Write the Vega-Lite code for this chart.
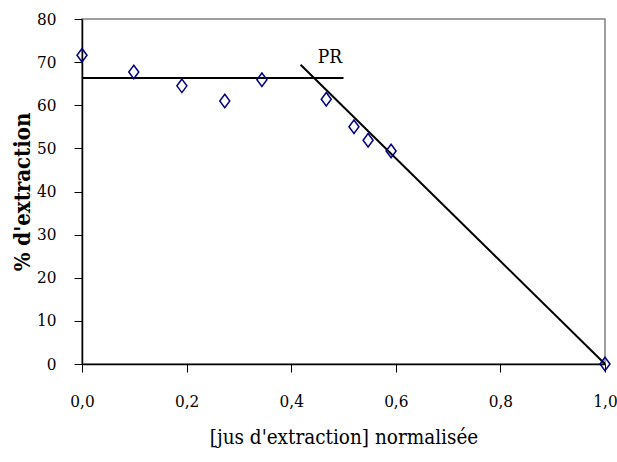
{
  "$schema": "https://vega.github.io/schema/vega-lite/v6.json",
  "width": 523,
  "height": 345,
  "autosize": "none",
  "padding": {"left": 82, "top": 19, "right": 12, "bottom": 98},
  "background": "white",
  "config": {
    "view": {"stroke": "#808080", "strokeWidth": 1.5},
    "font": "DejaVu Serif Condensed",
    "axis": {
      "grid": false,
      "domainColor": "black",
      "domainWidth": 1.5,
      "tickColor": "black",
      "tickWidth": 1,
      "tickSize": 8,
      "labelFont": "DejaVu Serif Condensed",
      "labelFontSize": 17,
      "labelColor": "black",
      "labelFlush": false,
      "titleFont": "DejaVu Serif Condensed",
      "titleColor": "black"
    }
  },
  "datasets": {
    "points": [
      {"x": 0.0, "y": 71.6},
      {"x": 0.099, "y": 67.7},
      {"x": 0.191, "y": 64.5},
      {"x": 0.273, "y": 61.0},
      {"x": 0.344, "y": 65.9},
      {"x": 0.467, "y": 61.4},
      {"x": 0.52, "y": 55.0},
      {"x": 0.547, "y": 51.9},
      {"x": 0.591, "y": 49.4},
      {"x": 1.0, "y": 0.0}
    ],
    "lines": [
      {"x": 0.0, "y": 66.3, "seg": "plateau"},
      {"x": 0.5, "y": 66.3, "seg": "plateau"},
      {"x": 0.418, "y": 69.4, "seg": "pente"},
      {"x": 1.0, "y": 0.0, "seg": "pente"}
    ],
    "labels": [
      {"x": 0.474, "y": 71.2, "label": "PR"}
    ]
  },
  "layer": [
    {
      "data": {"name": "lines"},
      "mark": {"type": "line", "color": "black", "strokeWidth": 2},
      "encoding": {
        "x": {
          "field": "x", "type": "quantitative",
          "scale": {"domain": [0, 1], "nice": false, "zero": false},
          "axis": {
            "values": [0, 0.2, 0.4, 0.6, 0.8, 1.0],
            "labelExpr": "replace(format(datum.value, '.1f'), '.', ',')",
            "labelPadding": 21,
            "title": "[jus d'extraction] normalisée",
            "titleFontSize": 20.5,
            "titleFontWeight": "normal",
            "titlePadding": 18
          }
        },
        "y": {
          "field": "y", "type": "quantitative",
          "scale": {"domain": [0, 80], "nice": false},
          "axis": {
            "values": [0, 10, 20, 30, 40, 50, 60, 70, 80],
            "labelPadding": 18,
            "title": "% d'extraction",
            "titleFontSize": 22,
            "titleFontWeight": "bold",
            "titlePadding": 2
          }
        },
        "detail": {"field": "seg"}
      }
    },
    {
      "data": {"name": "points"},
      "mark": {
        "type": "point",
        "shape": "M0,-1.35L1,0L0,1.35L-1,0Z",
        "size": 100,
        "filled": false,
        "stroke": "#000080",
        "strokeWidth": 1.5,
        "opacity": 1
      },
      "encoding": {
        "x": {"field": "x", "type": "quantitative"},
        "y": {"field": "y", "type": "quantitative"}
      }
    },
    {
      "data": {"name": "labels"},
      "mark": {"type": "text", "font": "DejaVu Serif Condensed", "fontSize": 19, "color": "black"},
      "encoding": {
        "x": {"field": "x", "type": "quantitative"},
        "y": {"field": "y", "type": "quantitative"},
        "text": {"field": "label"}
      }
    }
  ]
}
